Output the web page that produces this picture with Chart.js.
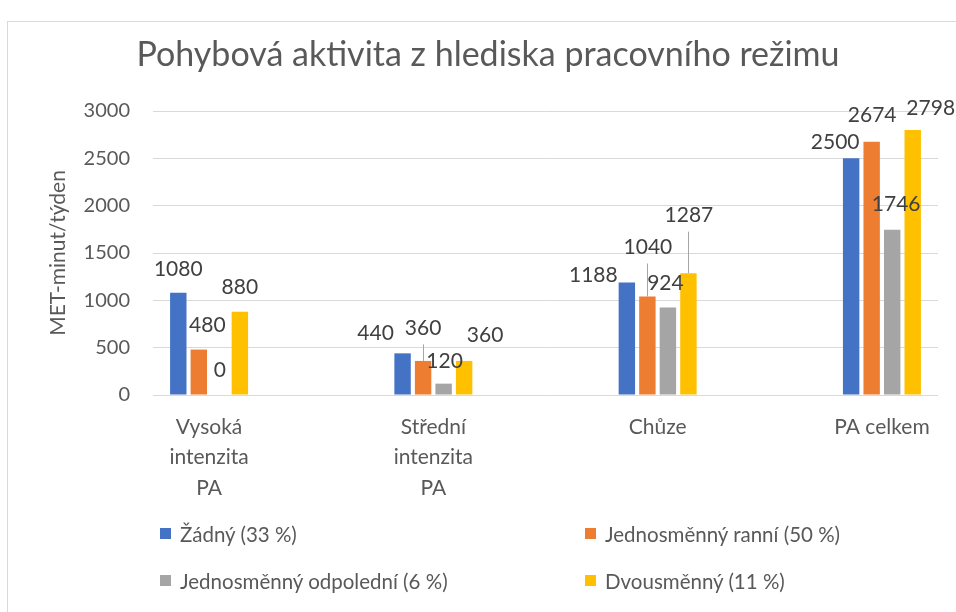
<!DOCTYPE html>
<html lang="cs">
<head>
<meta charset="utf-8">
<script src="https://cdn.jsdelivr.net/npm/chart.js@4.4.1/dist/chart.umd.min.js"></script>
<style>
  html, body { margin: 0; padding: 0; background: #fff; }
  #wrap { position: relative; width: 956px; height: 612px; overflow: hidden; font-family: Lato, sans-serif; }
  #frame { position: absolute; left: 7px; top: 21px; width: 990px; height: 640px; border: 1px solid #d9d9d9; }
  #chart { position: absolute; left: 0; top: 0; }
  #legend { position: absolute; left: 160px; top: 510px; display: grid; grid-template-columns: 425px 320px; }
  .item { display: flex; align-items: center; height: 47px; font-size: 20.5px; color: #595959; white-space: nowrap; }
  .box { width: 11px; height: 11px; margin-right: 9px; flex: none; }
</style>
</head>
<body>
<div id="wrap">
  <div id="frame"></div>
  <canvas id="chart" width="956" height="612"></canvas>
  <div id="legend"></div>
</div>
<script>
// data
const categories = [["Vysoká", "intenzita", "PA"], ["Střední", "intenzita", "PA"], ["Chůze"], ["PA celkem"]];
const seriesNames = ["Žádný (33 %)", "Jednosměnný ranní (50 %)", "Jednosměnný odpolední (6 %)", "Dvousměnný (11 %)"];
const zadny = [1080, 440, 1188, 2500];
const ranni = [480, 360, 1040, 2674];
const odpoledni = [0, 120, 924, 1746];
const dvousmenny = [880, 360, 1287, 2798];
const yTicks = [0, 500, 1000, 1500, 2000, 2500, 3000];

const colors = ["#4472C4", "#ED7D31", "#A5A5A5", "#FFC000"];
const textColor = "#595959";

// posunutí popisků (dx, dy od vrcholu sloupce), jako v Excelu ručně posunuté
const labelShift = [
  [[0, -24], [-27, -20], [-33.5, -7.5], [-16, -16]],
  [[8.5, -24.5], [0, -33], [0.5, -49.5], [0.5, -27]],
  [[0.5, -25], [1, -22], [-2.5, -24.5], [4, -25]],
  [[0, -24.5], [21, -26], [0.5, -58], [18, -22]],
];
const leaders = [[1, 1], [1, 2], [3, 2]];

Chart.defaults.font.family = "Lato, 'Open Sans', sans-serif";
Chart.defaults.color = textColor;

const seriesValues = [zadny, ranni, odpoledni, dvousmenny];

// popisky dat s vodícími čarami
const dataLabels = {
  id: "dataLabels",
  afterDatasetsDraw(chart) {
    const ctx = chart.ctx;
    ctx.save();
    ctx.font = "21px Lato, sans-serif";
    ctx.fillStyle = "#404040";
    ctx.textAlign = "center";
    ctx.textBaseline = "middle";
    seriesValues.forEach((values, s) => {
      const meta = chart.getDatasetMeta(s);
      meta.data.forEach((bar, i) => {
        const [dx, dy] = labelShift[s][i];
        const isLeader = leaders.some(([ls, li]) => ls === s && li === i);
        if (isLeader) {
          ctx.strokeStyle = "#a6a6a6";
          ctx.lineWidth = 1;
          ctx.beginPath();
          ctx.moveTo(Math.round(bar.x) + 0.5, bar.y + dy + 16.5);
          ctx.lineTo(Math.round(bar.x) + 0.5, bar.y);
          ctx.stroke();
        }
        ctx.fillText(String(values[i]), bar.x + dx, bar.y + dy);
      });
    });
    ctx.restore();
  },
};

new Chart(document.getElementById("chart"), {
  type: "bar",
  data: {
    datasets: seriesValues.map((values, s) => ({
      label: seriesNames[s],
      data: values.map((v, i) => ({ x: i, y: v })),
      backgroundColor: colors[s],
      borderWidth: 0,
      barPercentage: 0.8,
      categoryPercentage: 0.366,
    })),
  },
  options: {
    responsive: false,
    animation: false,
    layout: { padding: { left: 38, right: 18, top: 0, bottom: 0 } },
    plugins: {
      legend: { display: false },
      tooltip: { enabled: false },
      title: {
        display: true,
        text: "Pohybová aktivita z hlediska pracovního režimu",
        color: textColor,
        font: { size: 34, weight: "normal", lineHeight: 1.2 },
        padding: { top: 35, bottom: 35.2 },
      },
    },
    scales: {
      x: {
        type: "linear",
        min: -0.25,
        max: 3.25,
        offset: false,
        afterBuildTicks: (scale) => {
          scale.ticks = categories.map((c, i) => ({ value: i }));
        },
        afterFit: (scale) => {
          scale.height = 217;
        },
        ticks: {
          callback: (v) => categories[v],
          color: textColor,
          font: { size: 21, lineHeight: 1.45 },
          padding: 17,
          maxRotation: 0,
          autoSkip: false,
        },
        grid: { display: false, drawTicks: false },
        border: { display: false },
      },
      y: {
        min: 0,
        max: 3000,
        afterBuildTicks: (scale) => {
          scale.ticks = yTicks.map((v) => ({ value: v }));
        },
        afterFit: (scale) => {
          scale.width = 115;
        },
        ticks: { color: textColor, font: { size: 20 }, padding: 23, callback: (v) => String(v) },
        grid: { color: "#d9d9d9", lineWidth: 1, drawTicks: false },
        border: { display: false },
        title: {
          display: true,
          text: "MET-minut/týden",
          color: textColor,
          font: { size: 21 },
          padding: { top: 8, bottom: 0 },
        },
      },
    },
  },
  plugins: [dataLabels],
});

// legenda ve dvou sloupcích
const legend = document.getElementById("legend");
seriesNames.forEach((name, s) => {
  const item = document.createElement("div");
  item.className = "item";
  const box = document.createElement("span");
  box.className = "box";
  box.style.background = colors[s];
  item.appendChild(box);
  item.appendChild(document.createTextNode(name));
  legend.appendChild(item);
});
</script>
</body>
</html>
